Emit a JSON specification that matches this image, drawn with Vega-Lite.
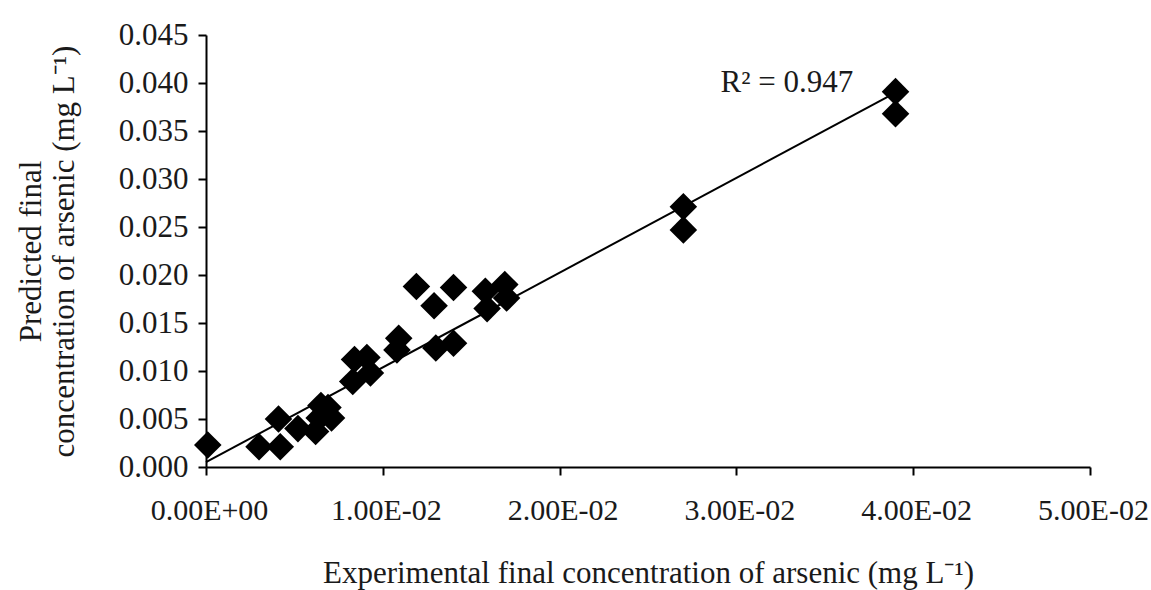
{
  "$schema": "https://vega.github.io/schema/vega-lite/v6.json",
  "width": 884,
  "height": 432,
  "autosize": {"type": "none"},
  "padding": {"left": 206, "top": 35, "right": 61, "bottom": 123},
  "background": "white",
  "config": {
    "view": {"stroke": null},
    "font": "Liberation Serif",
    "axis": {"grid": false, "domainColor": "#000", "domainWidth": 2, "tickColor": "#000", "tickWidth": 2, "tickSize": 8, "labelFont": "Liberation Serif", "titleFont": "Liberation Serif", "labelColor": "#1a1a1a", "titleColor": "#1a1a1a", "labelFontSize": 31, "titleFontSize": 31, "titleFontWeight": "normal"}
  },
  "datasets": {
    "pts": [
      {"x": 0.0001, "y": 0.0023},
      {"x": 0.0030, "y": 0.0021},
      {"x": 0.0042, "y": 0.0021},
      {"x": 0.0041, "y": 0.0050},
      {"x": 0.0052, "y": 0.0040},
      {"x": 0.0062, "y": 0.0037},
      {"x": 0.0064, "y": 0.0051},
      {"x": 0.0065, "y": 0.0064},
      {"x": 0.0069, "y": 0.0062},
      {"x": 0.0071, "y": 0.0051},
      {"x": 0.0083, "y": 0.0089},
      {"x": 0.0084, "y": 0.0112},
      {"x": 0.0091, "y": 0.0114},
      {"x": 0.0093, "y": 0.0098},
      {"x": 0.0108, "y": 0.0122},
      {"x": 0.0109, "y": 0.0134},
      {"x": 0.0119, "y": 0.0188},
      {"x": 0.0129, "y": 0.0168},
      {"x": 0.0140, "y": 0.0187},
      {"x": 0.0130, "y": 0.0124},
      {"x": 0.0140, "y": 0.0129},
      {"x": 0.0158, "y": 0.0183},
      {"x": 0.0159, "y": 0.0165},
      {"x": 0.0169, "y": 0.0190},
      {"x": 0.0170, "y": 0.0176},
      {"x": 0.0270, "y": 0.0271},
      {"x": 0.0270, "y": 0.0247},
      {"x": 0.0390, "y": 0.0391},
      {"x": 0.0390, "y": 0.0368}
    ],
    "fit": [
      {"x": 0.0, "y": 0.0005},
      {"x": 0.039, "y": 0.0390}
    ],
    "lbl": [{"x": 0.03286, "y": 0.0400, "t": "R² = 0.947"}]
  },
  "layer": [
    {
      "data": {"name": "fit"},
      "mark": {"type": "line", "color": "#000", "strokeWidth": 2},
      "encoding": {
        "x": {"field": "x", "type": "quantitative"},
        "y": {"field": "y", "type": "quantitative"}
      }
    },
    {
      "data": {"name": "pts"},
      "mark": {"type": "point", "shape": "diamond", "filled": true, "color": "#000", "opacity": 1, "size": 760},
      "encoding": {
        "x": {
          "field": "x", "type": "quantitative",
          "scale": {"domain": [0, 0.05], "nice": false, "zero": true},
          "axis": {
            "values": [0, 0.01, 0.02, 0.03, 0.04, 0.05],
            "labelExpr": "datum.value == 0 ? '0.00E+00' : format(datum.value*100, '.2f') + 'E-02'",
            "labelFlush": false,
            "labelFontSize": 30,
            "labelOffset": 3,
            "labelPadding": 20,
            "title": "Experimental final concentration of arsenic (mg L⁻¹)",
            "titlePadding": 33
          }
        },
        "y": {
          "field": "y", "type": "quantitative",
          "scale": {"domain": [0, 0.045], "nice": false},
          "axis": {
            "values": [0, 0.005, 0.01, 0.015, 0.02, 0.025, 0.03, 0.035, 0.04, 0.045],
            "format": ".3f",
            "labelFlush": false,
            "labelPadding": 10,
            "title": ["Predicted final", "concentration of arsenic (mg L⁻¹)"],
            "titlePadding": 38,
            "titleLineHeight": 33
          }
        }
      }
    },
    {
      "data": {"name": "lbl"},
      "mark": {"type": "text", "fontSize": 31, "font": "Liberation Serif", "color": "#1a1a1a", "align": "center", "baseline": "middle"},
      "encoding": {
        "x": {"field": "x", "type": "quantitative"},
        "y": {"field": "y", "type": "quantitative"},
        "text": {"field": "t"}
      }
    }
  ]
}
